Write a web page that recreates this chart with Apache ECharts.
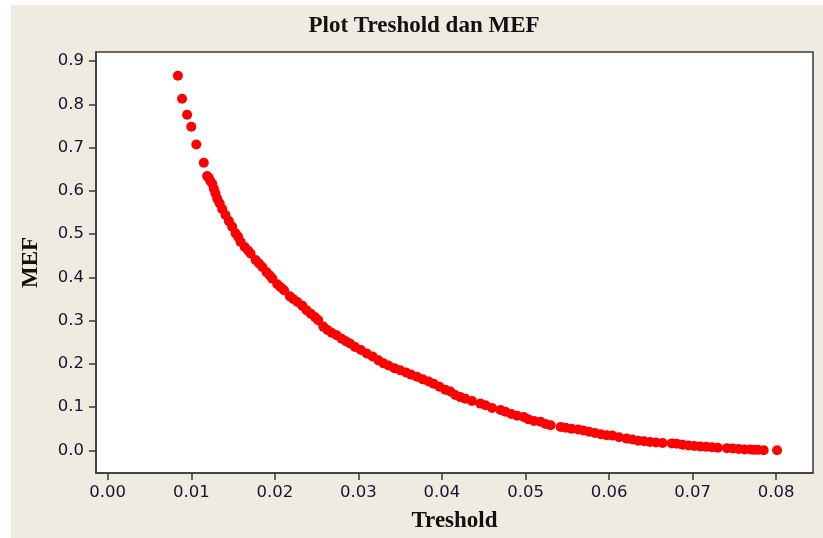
<!DOCTYPE html>
<html lang="id">
<head>
    <meta charset="UTF-8">
    <title>Plot Treshold dan MEF</title>
    <style type="text/css">
        *{
            margin: 0px;
            padding: 0px;
        }
        body{
            background-color: #ffffff;
            width: 823px;
            height: 538px;
            overflow: hidden;
        }
        #mef-plot{
            position: absolute;
            left: 11px;
            top: 5px;
            width: 812px;
            height: 533px;
            background-color: #EFEBE1;
        }
    </style>
</head>
<body>

<div id="mef-plot"></div>

<script src="https://cdn.jsdelivr.net/npm/echarts@6/dist/echarts.min.js"></script>
<script type="text/javascript">
    // titik-titik
    var threshold = [
        0.0084,0.0089,0.0095,0.0100,0.0106,0.0115,0.0119,0.0121,0.0123,0.0125,
        0.0127,0.0129,0.0131,0.0134,0.0137,0.0141,0.0145,0.0149,0.0153,0.0156,
        0.0159,0.0164,0.0168,0.0171,0.0177,0.0181,0.0185,0.0190,0.0194,0.0197,
        0.0203,0.0207,0.0211,0.0218,0.0222,0.0227,0.0233,0.0238,0.0243,0.0248,
        0.0252,0.0258,0.0263,0.0268,0.0274,0.0280,0.0285,0.0290,0.0296,0.0303,
        0.0310,0.0317,0.0324,0.0330,0.0336,0.0343,0.0350,0.0357,0.0363,0.0370,
        0.0377,0.0384,0.0390,0.0397,0.0404,0.0410,0.0416,0.0422,0.0428,0.0436,
        0.0446,0.0452,0.0460,0.0470,0.0476,0.0483,0.0490,0.0498,0.0503,0.0510,
        0.0518,0.0524,0.0530,0.0542,0.0548,0.0555,0.0563,0.0569,0.0576,0.0583,
        0.0590,0.0597,0.0604,0.0612,0.0621,0.0628,0.0635,0.0642,0.0649,0.0656,
        0.0664,0.0675,0.0681,0.0688,0.0695,0.0702,0.0709,0.0716,0.0723,0.0730,
        0.0741,0.0748,0.0755,0.0762,0.0769,0.0773,0.0778,0.0785,0.0801
    ];
    var mef = [
        0.866,0.813,0.776,0.748,0.707,0.665,0.634,0.630,0.622,0.617,
        0.605,0.594,0.582,0.571,0.558,0.544,0.530,0.517,0.502,0.494,
        0.482,0.470,0.462,0.455,0.440,0.432,0.424,0.412,0.404,0.397,
        0.384,0.377,0.370,0.356,0.350,0.343,0.334,0.324,0.316,0.308,
        0.301,0.286,0.278,0.272,0.266,0.258,0.252,0.247,0.239,0.232,
        0.224,0.217,0.208,0.201,0.196,0.190,0.185,0.180,0.175,0.170,
        0.164,0.159,0.154,0.147,0.140,0.136,0.128,0.123,0.119,0.114,
        0.108,0.104,0.098,0.093,0.089,0.084,0.080,0.077,0.072,0.068,
        0.066,0.061,0.058,0.054,0.052,0.050,0.048,0.046,0.043,0.040,
        0.037,0.035,0.034,0.030,0.027,0.025,0.022,0.021,0.019,0.018,
        0.017,0.016,0.015,0.013,0.011,0.010,0.009,0.008,0.007,0.006,
        0.005,0.004,0.003,0.002,0.002,0.001,0.001,0.000,0.000
    ];
    var xTicks = [0, 0.01, 0.02, 0.03, 0.04, 0.05, 0.06, 0.07, 0.08];
    var yTicks = [0, 0.1, 0.2, 0.3, 0.4, 0.5, 0.6, 0.7, 0.8, 0.9];

    var points = [];
    for (var i = 0; i < threshold.length; i++) {
        points.push([threshold[i], mef[i]]);
    }

    var myChart = echarts.init(document.getElementById('mef-plot'));

    var labelStyle = {
        color: '#151530',
        fontFamily: 'DejaVu Sans',
        fontSize: 16.5
    };
    var nameStyle = {
        color: '#111',
        fontFamily: 'Liberation Serif',
        fontWeight: 'bold',
        fontSize: 23
    };

    var option = {
        animation: false,
        graphic: [{
            type: 'text',
            x: 413,
            y: 21,
            style: {
                text: 'Plot Treshold dan MEF',
                fill: '#111',
                font: 'bold 23px "Liberation Serif"',
                textAlign: 'center',
                textVerticalAlign: 'middle'
            }
        }],
        grid: {
            left: 85,
            right: 10,
            top: 47,
            bottom: 65,
            show: true,
            backgroundColor: '#ffffff',
            borderColor: '#3a3a3a',
            borderWidth: 1.5
        },
        xAxis: {
            type: 'value',
            min: -0.0014,
            max: 0.0844,
            name: 'Treshold',
            nameLocation: 'middle',
            nameGap: 37,
            nameTextStyle: nameStyle,
            axisLine: { show: true, onZero: false, lineStyle: { color: '#3a3a3a', width: 1.5 } },
            axisTick: { show: true, length: 7, customValues: xTicks, lineStyle: { color: '#3a3a3a', width: 1.5 } },
            axisLabel: {
                customValues: xTicks,
                margin: 11,
                color: labelStyle.color,
                fontFamily: labelStyle.fontFamily,
                fontSize: labelStyle.fontSize,
                formatter: function (v) { return v.toFixed(2); }
            },
            splitLine: { show: false }
        },
        yAxis: {
            type: 'value',
            min: -0.0525,
            max: 0.921,
            name: 'MEF',
            nameLocation: 'middle',
            nameGap: 53,
            nameTextStyle: nameStyle,
            axisLine: { show: true, onZero: false, lineStyle: { color: '#3a3a3a', width: 1.5 } },
            axisTick: { show: true, length: 7, customValues: yTicks, lineStyle: { color: '#3a3a3a', width: 1.5 } },
            axisLabel: {
                customValues: yTicks,
                margin: 12,
                color: labelStyle.color,
                fontFamily: labelStyle.fontFamily,
                fontSize: labelStyle.fontSize,
                formatter: function (v) { return v.toFixed(1); }
            },
            splitLine: { show: false }
        },
        series: [{
            name: 'MEF',
            type: 'scatter',
            symbol: 'circle',
            symbolSize: 10,
            itemStyle: { color: '#ff0000', opacity: 1 },
            data: points
        }]
    };
    myChart.setOption(option);
</script>
</body>
</html>
